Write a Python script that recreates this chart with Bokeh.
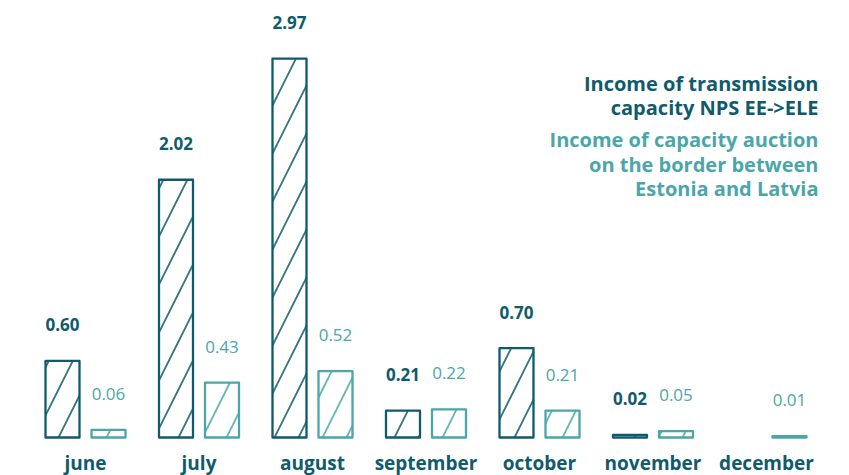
from bokeh.plotting import figure
from bokeh.models import ColumnDataSource, Range1d, Label
from bokeh.core.properties import value
from bokeh.embed import file_html
from bokeh.resources import INLINE

months = ["june", "july", "august", "september", "october", "november", "december"]
nps_income = [0.60, 2.02, 2.97, 0.21, 0.70, 0.02, None]
auction_income = [0.06, 0.43, 0.52, 0.22, 0.21, 0.05, 0.01]
legend_dark = ["Income of transmission", "capacity NPS EE->ELE"]
legend_light = ["Income of capacity auction", "on the border between", "Estonia and Latvia"]

DARK = "#0f5b6c"
LIGHT = "#4ba7a7"
FONT = "Open Sans"

px_per_unit = 127.6
W, H = 849, 475
base_y = 437
x0 = 85
step = 113.5

p = figure(width=W, height=H, output_backend="svg", toolbar_location=None,
           min_border=0, outline_line_color=None)
p.x_range = Range1d(-x0 / step, (W - x0) / step)
p.y_range = Range1d(-(H - base_y) / px_per_unit, base_y / px_per_unit)
p.axis.visible = False
p.grid.visible = False
p.background_fill_color = "white"
p.border_fill_color = "white"

off = 23 / step
bw = 34 / step

dx = [i - off for i, v in enumerate(nps_income) if v is not None]
dv = [v for v in nps_income if v is not None]
lx = [i + off for i, v in enumerate(auction_income) if v is not None]
lv = [v for v in auction_income if v is not None]

ds = ColumnDataSource(dict(x=dx, top=dv, lab=["%.2f" % v for v in dv]))
ls = ColumnDataSource(dict(x=lx, top=lv, lab=["%.2f" % v for v in lv]))

p.vbar(x="x", top="top", bottom=0, width=bw, source=ds, fill_color="white",
       line_color=DARK, line_width=2.3, line_join="round",
       hatch_pattern="right_diagonal_line", hatch_color=DARK, hatch_alpha=0.85,
       hatch_scale=48, hatch_weight=1.8)
p.vbar(x="x", top="top", bottom=0, width=bw, source=ls, fill_color="white",
       line_color=LIGHT, line_width=2.3, line_join="round",
       hatch_pattern="right_diagonal_line", hatch_color=LIGHT, hatch_alpha=0.85,
       hatch_scale=48, hatch_weight=1.8)

p.text(x="x", y="top", text="lab", source=ds, text_align="center",
       text_baseline="middle", y_offset=-36, text_color=DARK,
       text_font=value(FONT), text_font_size="17px", text_font_style="bold")
p.text(x="x", y="top", text="lab", source=ls, text_align="center",
       text_baseline="middle", y_offset=-36, text_color=LIGHT,
       text_font=value(FONT), text_font_size="17px")

ms = ColumnDataSource(dict(x=list(range(len(months))), y=[0] * len(months), m=months))
p.text(x="x", y="y", text="m", source=ms, text_align="center",
       text_baseline="middle", y_offset=25, text_color=DARK,
       text_font=value(FONT), text_font_size="19px", text_font_style="bold")

lines = [(t, DARK) for t in legend_dark] + [(t, LIGHT) for t in legend_light]
ys = [83, 107, 139, 164, 188]
for (t, c), yy in zip(lines, ys):
    p.add_layout(Label(x=818, y=H - yy, x_units="screen", y_units="screen", text=t,
                       text_align="right", text_baseline="middle", text_color=c,
                       text_font=FONT, text_font_size="20px", text_font_style="bold"))

open("out.html", "w").write(file_html(p, INLINE))
